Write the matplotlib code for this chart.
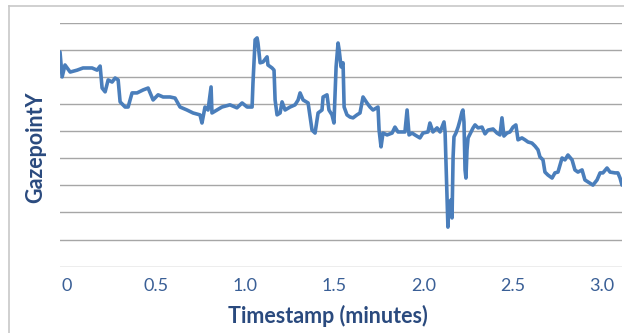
import matplotlib
matplotlib.use("Agg")
import matplotlib.pyplot as plt
from matplotlib.lines import Line2D

# temps en minutes
timestamp = [
    -0.038, -0.026, -0.010, 0.019, 0.058, 0.091, 0.142, 0.170, 0.187, 0.198,
    0.215, 0.232, 0.254, 0.271, 0.288, 0.299, 0.327, 0.344, 0.366, 0.394,
    0.428, 0.456, 0.484, 0.512, 0.540, 0.579, 0.607, 0.635, 0.674, 0.708,
    0.747, 0.758, 0.775, 0.792, 0.809, 0.814, 0.842, 0.870, 0.915, 0.954,
    0.983, 1.011, 1.039, 1.044, 1.056, 1.067, 1.072, 1.084, 1.100, 1.123,
    1.128, 1.151, 1.162, 1.168, 1.179, 1.196, 1.207, 1.224, 1.252, 1.280,
    1.297, 1.308, 1.325, 1.353, 1.375, 1.392, 1.409, 1.431, 1.437, 1.459,
    1.470, 1.487, 1.498, 1.510, 1.521, 1.527, 1.538, 1.549, 1.555, 1.571,
    1.588, 1.605, 1.627, 1.644, 1.661, 1.683, 1.700, 1.717, 1.745, 1.751,
    1.762, 1.773, 1.796, 1.824, 1.840, 1.857, 1.880, 1.896, 1.908, 1.919,
    1.936, 1.952, 1.980, 1.997, 2.025, 2.036, 2.053, 2.076, 2.093, 2.115,
    2.121, 2.132, 2.137, 2.143, 2.154, 2.160, 2.166, 2.171, 2.182, 2.194,
    2.205, 2.216, 2.221, 2.227, 2.233, 2.238, 2.244, 2.250, 2.267, 2.278,
    2.289, 2.306, 2.328, 2.345, 2.362, 2.390, 2.412, 2.429, 2.440, 2.451,
    2.468, 2.485, 2.502, 2.518, 2.530, 2.552, 2.569, 2.586, 2.608, 2.625,
    2.642, 2.653, 2.670, 2.681, 2.698, 2.721, 2.737, 2.754, 2.777, 2.793,
    2.810, 2.833, 2.849, 2.866, 2.889, 2.905, 2.922, 2.950, 2.973, 2.990,
    3.006, 3.029, 3.046, 3.074, 3.090, 3.102, 3.113,
]

# position verticale du regard
gazepoint_y = [
    792, 700, 744, 718, 725, 733, 733, 725, 740, 659,
    645, 689, 681, 696, 689, 608, 589, 589, 641, 641,
    652, 659, 615, 634, 626, 626, 622, 589, 578, 567,
    560, 530, 589, 578, 663, 567, 578, 589, 597, 586,
    604, 589, 589, 678, 837, 844, 825, 752, 755, 774,
    744, 733, 725, 615, 560, 567, 608, 578, 589, 597,
    615, 641, 615, 604, 504, 493, 567, 578, 626, 634,
    578, 560, 530, 737, 825, 800, 737, 752, 589, 560,
    552, 549, 560, 567, 626, 604, 589, 578, 589, 504,
    442, 493, 486, 493, 515, 497, 497, 497, 578, 486,
    493, 486, 475, 493, 497, 530, 497, 512, 497, 534,
    497, 246, 146, 235, 246, 180, 405, 479, 493, 515,
    541, 571, 578, 534, 357, 327, 431, 475, 497, 512,
    523, 512, 515, 490, 504, 508, 493, 486, 549, 482,
    493, 497, 515, 523, 468, 475, 468, 460, 456, 445,
    431, 405, 394, 349, 338, 327, 346, 349, 401, 394,
    412, 394, 357, 349, 357, 320, 313, 301, 320, 346,
    346, 364, 349, 346, 346, 327, 301,
]

xticks = [0, 0.5, 1.0, 1.5, 2.0, 2.5, 3.0]
xtick_labels = ["0", "0.5", "1.0", "1.5", "2.0", "2.5", "3.0"]

plt.rcParams['font.family'] = ['Lato', 'DejaVu Sans']

fig = plt.figure(figsize=(6.24, 3.33), dpi=100)
ax = fig.add_axes([60 / 624, 1 - 266.7 / 333, 562 / 624, 244 / 333])

ax.plot(timestamp, gazepoint_y, color="#4A7EBB", linewidth=2.6,
        solid_joinstyle="round", solid_capstyle="round", zorder=3)

ax.set_xlim(-0.038, 3.113)
ax.set_ylim(0, 900)
ax.set_yticks(range(0, 901, 100))
ax.yaxis.grid(True, color="#A6A6A6", linewidth=1.0)
ax.set_yticklabels([])
ax.tick_params(axis="y", length=0)

ax.set_xticks(xticks)
ax.set_xticklabels(xtick_labels, fontsize=13, color="#3A5F96")
ax.tick_params(axis="x", length=0, pad=8)

for s in ax.spines.values():
    s.set_visible(False)

ax.set_xlabel("Timestamp (minutes)", fontsize=15.5, fontweight="bold",
              color="#2A4A7E", va="center", ha="center")
ax.xaxis.set_label_coords(0.477, -0.202)
ax.set_ylabel("GazepointY", fontsize=15.5, fontweight="bold",
              color="#2A4A7E", va="center", ha="center")
ax.yaxis.set_label_coords(-0.043, 0.49)

# bordure du graphique (haut et gauche)
fig.add_artist(Line2D([9 / 624, 9 / 624], [0, 1 - 6 / 333],
                      color="#C8C8C8", linewidth=1.2))
fig.add_artist(Line2D([9 / 624, 1], [1 - 6 / 333, 1 - 6 / 333],
                      color="#C8C8C8", linewidth=1.2))

fig.savefig("out.png", dpi=100)
